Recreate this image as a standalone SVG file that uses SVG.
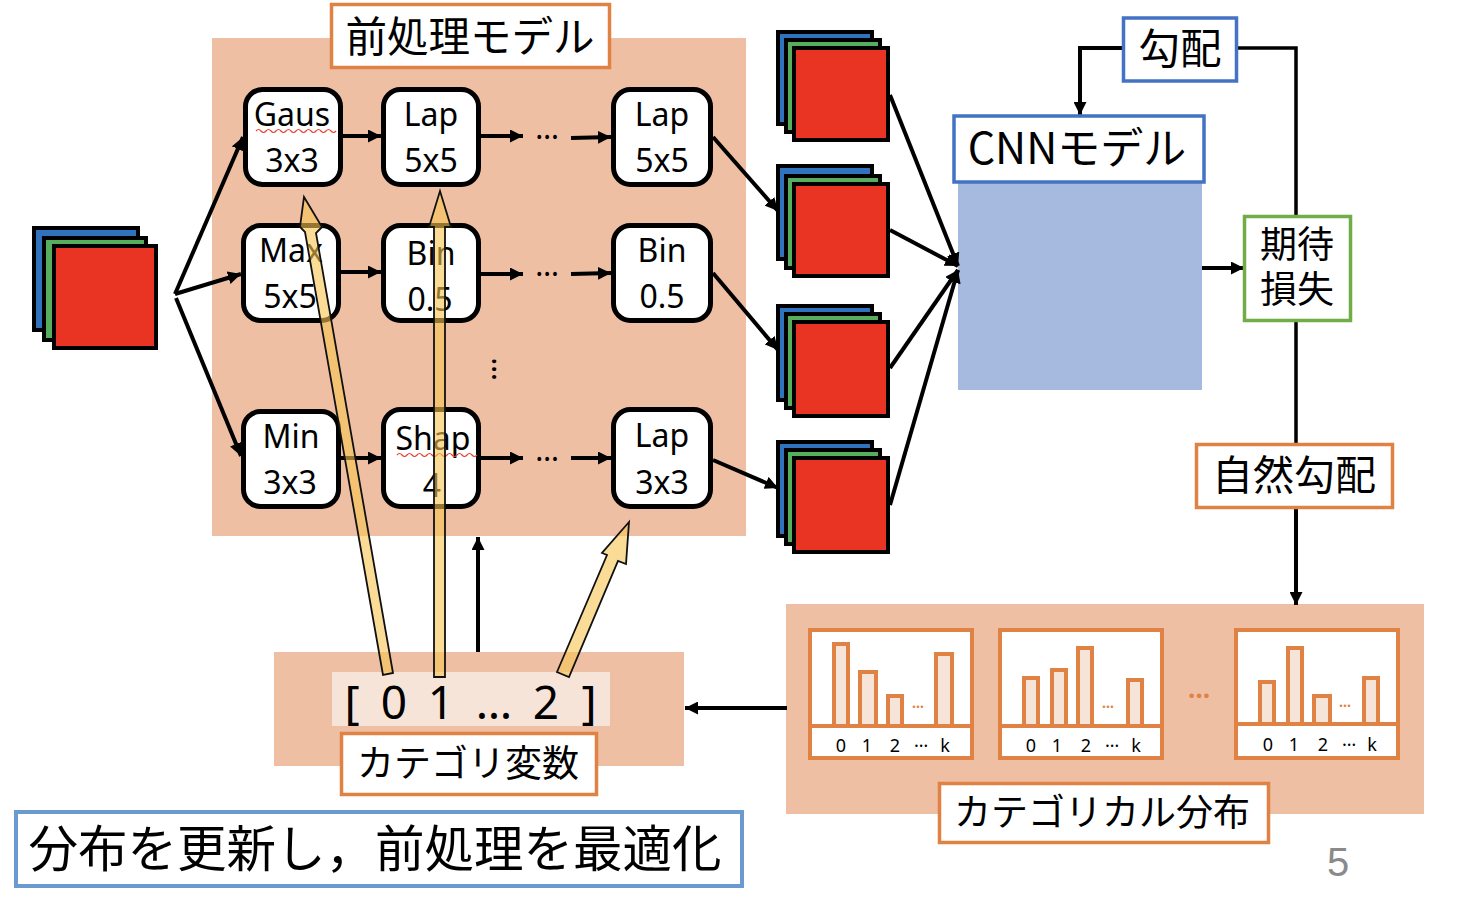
<svg xmlns="http://www.w3.org/2000/svg" xmlns:xlink="http://www.w3.org/1999/xlink" width="1462" height="906" viewBox="0 0 1462 906">
<style>
text{font-family:"Noto Sans","Noto Sans CJK JP",sans-serif;fill:#000;text-anchor:middle}
.n{font-size:32px}
.j{font-family:"Noto Sans CJK JP","Noto Sans",sans-serif;font-size:41.500px}
.peach{fill:#EEBFA3}
.node{fill:#fff;stroke:#000;stroke-width:5}
.lb{fill:#fff;stroke-width:3.500}
.or{stroke:#DF8244}.bl{stroke:#4472C4}.gr{stroke:#70AD47}
.c{fill:none;stroke:#000;stroke-width:4;marker-end:url(#a)}
.t{fill:none;stroke:#000;stroke-width:3.500}
.y{fill:#F6C552;fill-opacity:.6;stroke:#111;stroke-width:1.800}
.sq{fill:none;stroke:#E8402F;stroke-width:1.200}
.fr{fill:#fff;stroke:#DF8244;stroke-width:4}
.bar{fill:#F7E4D8;stroke:#DF8244;stroke-width:4}
.ax{fill:none;stroke:#DF8244;stroke-width:4}
.tk{font-size:18px}
.od{font-size:14px;fill:#DF8244;font-weight:bold}
.el{font-size:30px}
.bk{stroke:#000;stroke-width:4}
.b{fill:#2F72BE}.g{fill:#56AD5E}.r{fill:#E93323}
</style>
<defs>
<marker id="a" markerUnits="userSpaceOnUse" markerWidth="14" markerHeight="13" refX="13" refY="6.500" orient="auto"><path d="M0 0L13 6.500L0 13z" fill="#000"/></marker>
<g id="st">
<rect class="bk b" x="2" y="2" width="94" height="92"/>
<rect class="bk g" x="10" y="10" width="94" height="92"/>
<rect class="bk r" x="18" y="18" width="94" height="92"/>
</g>
<g id="st2">
<rect class="bk b" x="2" y="2" width="94" height="94"/>
<rect class="bk g" x="10" y="10" width="94" height="94"/>
<rect class="bk r" x="18" y="18" width="94" height="94"/>
</g>
</defs>

<rect class="peach" x="212" y="38" width="534" height="498"/>
<rect class="peach" x="274" y="652" width="410" height="114"/>
<rect class="peach" x="786" y="604" width="638" height="210"/>
<rect x="958" y="183" width="244" height="207" fill="#A6B9DE"/>

<g id="connectors">
<path class="c" d="M175 294L243 137"/>
<path class="c" d="M175 294L241 274"/>
<path class="c" d="M176 298L241 456"/>
<path class="c" d="M343 136H381"/>
<path class="c" d="M481 136H523"/>
<path class="c" d="M571 138L611 137"/>
<path class="c" d="M341 272H381"/>
<path class="c" d="M481 274H523"/>
<path class="c" d="M571 274L611 273"/>
<path class="c" d="M341 458H381"/>
<path class="c" d="M481 458H523"/>
<path class="c" d="M571 458H611"/>
<path class="c" d="M713 137L778 211"/>
<path class="c" d="M713 273L778 350"/>
<path class="c" d="M713 460L778 488"/>
<path class="c" d="M890 95L958 266"/>
<path class="c" d="M890 230L958 266"/>
<path class="c" d="M890 368L958 270"/>
<path class="c" d="M890 505L958 270"/>
<path class="c" d="M1123 48H1080V115"/>
<path class="t" d="M1237 48H1296V216"/>
<path class="t" d="M1296 321V444"/>
<path class="c" d="M1296 508V605"/>
<path class="c" d="M1202 268H1244"/>
<path class="c" d="M787 708H685"/>
<path class="c" d="M478 652V537"/>
</g>

<g id="input-stack">
<rect class="bk b" x="34" y="228" width="104" height="102"/>
<rect class="bk g" x="44" y="238" width="102" height="102"/>
<rect class="bk r" x="54" y="246" width="102" height="102"/>
</g>
<g id="stack-1"><use xlink:href="#st" href="#st" transform="translate(776,30)"/></g>
<g id="stack-2">
<rect class="bk b" x="778" y="166" width="94" height="93"/>
<rect class="bk g" x="786" y="176" width="94" height="92"/>
<rect class="bk r" x="794" y="184" width="94" height="92"/>
</g>
<g id="stack-3"><use xlink:href="#st2" href="#st2" transform="translate(776,304)"/></g>
<g id="stack-4"><use xlink:href="#st2" href="#st2" transform="translate(776,440)"/></g>

<g id="n-gaus"><rect class="node" x="245.500" y="89.500" width="95" height="95" rx="17"/><text class="n" x="292" y="126">Gaus</text><text class="n" x="292" y="172">3x3</text></g>
<path class="sq" d="M256 131q2.500-3 5 0t5 0t5 0t5 0t5 0t5 0t5 0t5 0t5 0t5 0t5 0t5 0t5 0t5 0t5 0t5 0"/>
<g id="n-lap1"><rect class="node" x="383.500" y="89.500" width="95" height="95" rx="17"/><text class="n" x="431" y="126">Lap</text><text class="n" x="431" y="172">5x5</text></g>
<g id="n-lap2"><rect class="node" x="613.500" y="89.500" width="97" height="95" rx="17"/><text class="n" x="662" y="126">Lap</text><text class="n" x="662" y="172">5x5</text></g>
<g id="n-max"><rect class="node" x="243.500" y="225.500" width="95" height="95" rx="17"/><text class="n" x="291" y="262">Max</text><text class="n" x="290" y="308">5x5</text></g>
<g id="n-bin1"><rect class="node" x="383.500" y="225.500" width="95" height="95" rx="17"/><text class="n" x="431" y="265">Bin</text><text class="n" x="430" y="311">0.5</text></g>
<g id="n-bin2"><rect class="node" x="613.500" y="225.500" width="97" height="95" rx="17"/><text class="n" x="662" y="262">Bin</text><text class="n" x="662" y="308">0.5</text></g>
<g id="n-min"><rect class="node" x="243.500" y="411.500" width="95" height="95" rx="17"/><text class="n" x="291" y="448">Min</text><text class="n" x="290" y="494">3x3</text></g>
<g id="n-shap"><rect class="node" x="383.500" y="409.500" width="95" height="97" rx="17"/><text class="n" x="433" y="450">Shap</text><text class="n" x="432" y="497">4</text></g>
<path class="sq" d="M397 455q2.500-3 5 0t5 0t5 0t5 0t5 0t5 0t5 0t5 0t5 0t5 0t5 0t5 0t5 0t5 0t5 0t5 0"/>
<g id="n-lap3"><rect class="node" x="613.500" y="409.500" width="97" height="97" rx="17"/><text class="n" x="662" y="447">Lap</text><text class="n" x="662" y="494">3x3</text></g>

<text class="el" x="547" y="139">…</text>
<text class="el" x="547" y="276">…</text>
<text class="el" x="547" y="461">…</text>
<text class="el" x="0" y="0" transform="translate(491.500,369) rotate(90)">…</text>

<g id="label-preproc"><rect class="lb or" x="331.500" y="4.500" width="278" height="63"/><text class="j" x="470" y="52">前処理モデル</text></g>
<g id="label-grad"><rect class="lb bl" x="1123.500" y="18" width="113" height="63"/><text class="j" x="1180" y="64">勾配</text></g>
<g id="label-cnn"><rect class="lb bl" x="954" y="116" width="250" height="66"/><text class="j" style="font-size:43px" x="1077" y="164">CNNモデル</text></g>
<g id="label-loss"><rect class="lb gr" x="1244.500" y="216.500" width="106" height="104"/><text class="j" style="font-size:37px"><tspan x="1297" y="258">期待</tspan><tspan x="1297" y="303">損失</tspan></text></g>
<g id="label-natgrad"><rect class="lb or" x="1196.500" y="444.500" width="196" height="63"/><text class="j" style="font-size:41px" x="1294" y="490">自然勾配</text></g>

<g id="vector"><rect x="332" y="672" width="278" height="54" fill="#F7E4D8"/>
<text x="352" y="719" style="font-size:46px">[</text><text x="394" y="719" style="font-size:46px">0</text><text x="441" y="719" style="font-size:46px">1</text><text x="494" y="719" style="font-size:46px">…</text><text x="546" y="719" style="font-size:46px">2</text><text x="589" y="719" style="font-size:46px">]</text></g>

<g id="yellow-arrows">
<path class="y" d="M383 675L305 232L300 227L304 197L322 227L316 233L393 673z"/>
<path class="y" d="M434 677V227H429L440 191L451 227H445V677z"/>
<path class="y" d="M557 672L607 555L602 553L629 522L626 564L618 561L569 677z"/>
</g>

<g id="label-catvar"><rect class="lb or" x="341.500" y="733.500" width="255" height="61"/><text class="j" style="font-size:37px" x="468" y="777">カテゴリ変数</text></g>

<g id="chart-1"><rect class="fr" x="810" y="630" width="162" height="128"/>
<rect class="bar" x="834" y="644" width="14" height="82"/><rect class="bar" x="860" y="672" width="16" height="54"/><rect class="bar" x="888" y="696" width="14" height="30"/><rect class="bar" x="936" y="654" width="16" height="72"/>
<path class="ax" d="M810 726H972"/>
<text class="tk" x="841" y="752">0</text><text class="tk" x="867" y="752">1</text><text class="tk" x="895" y="752">2</text><text class="tk" x="921" y="747">…</text><text class="tk" x="945" y="752">k</text><text class="od" x="918" y="708">…</text></g>
<g id="chart-2"><rect class="fr" x="1000" y="630" width="162" height="128"/>
<rect class="bar" x="1024" y="678" width="14" height="48"/><rect class="bar" x="1052" y="670" width="14" height="56"/><rect class="bar" x="1078" y="648" width="14" height="78"/><rect class="bar" x="1128" y="680" width="14" height="46"/>
<path class="ax" d="M1000 726H1162"/>
<text class="tk" x="1031" y="752">0</text><text class="tk" x="1057" y="752">1</text><text class="tk" x="1086" y="752">2</text><text class="tk" x="1112" y="747">…</text><text class="tk" x="1136" y="752">k</text><text class="od" x="1108" y="708">…</text></g>
<text x="1199" y="698" style="font-size:26px;fill:#DF8244;font-weight:bold">…</text>
<g id="chart-3"><rect class="fr" x="1236" y="630" width="162" height="128"/>
<rect class="bar" x="1260" y="682" width="14" height="42"/><rect class="bar" x="1288" y="648" width="14" height="76"/><rect class="bar" x="1314" y="696" width="16" height="28"/><rect class="bar" x="1364" y="678" width="14" height="46"/>
<path class="ax" d="M1236 724H1398"/>
<text class="tk" x="1268" y="751">0</text><text class="tk" x="1294" y="751">1</text><text class="tk" x="1323" y="751">2</text><text class="tk" x="1349" y="746">…</text><text class="tk" x="1372" y="751">k</text><text class="od" x="1345" y="707">…</text></g>

<g id="label-catdist"><rect class="lb or" x="939.500" y="783.500" width="329" height="59"/><text class="j" style="font-size:37px" x="1102" y="826">カテゴリカル分布</text></g>
<g id="label-update"><rect class="lb" style="stroke:#6A9AD0;stroke-width:4" x="16" y="812" width="726" height="74"/><text class="j" style="font-size:49.500px" x="375" y="867">分布を更新し，前処理を最適化</text></g>
<text x="1338" y="876" style="font-size:40px;fill:#8A8A8A;font-family:'Liberation Sans',sans-serif">5</text>
</svg>
